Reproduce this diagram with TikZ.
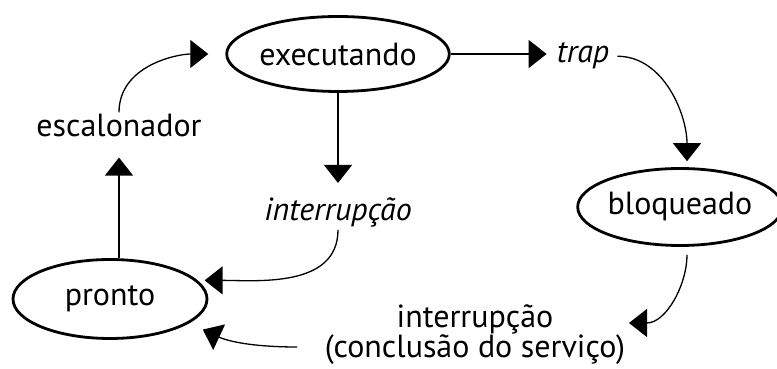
\documentclass[tikz,border=0pt]{standalone}
\usepackage{fontspec}
\setmainfont{PT Sans}
\usetikzlibrary{shapes.geometric, arrows.meta}
\begin{document}
\begin{tikzpicture}[x=1pt, y=1pt]
    \tikzset{state/.style={draw, ellipse, line width=2.8pt, inner sep=0pt, font=\fontsize{32}{32}\selectfont}}
    \tikzset{event/.style={inner sep=2pt, align=center, font=\fontsize{32}{29}\selectfont}}
    \tikzset{trans/.style={-{Triangle[width=28pt, length=18pt]}, line width=1.3pt}}
    \useasboundingbox (0,0) rectangle (777,369);

    \node[state, minimum width=193pt, minimum height=75pt] (Executando) at (338,315) {executando};
    \node[state, minimum width=194pt, minimum height=79pt] (Pronto) at (110,70) {pronto};
    \node[state, minimum width=183pt, minimum height=77pt] (Bloqueado) at (680,162) {bloqueado};

    \node[event, anchor=base] (Escalonador) at (119,232) {escalonador};
    \node[event, anchor=base] (Interrupcao) at (338,148) {\textit{interrupção}};
    \node[event, anchor=base] (Trap) at (583,306) {\textit{trap}};
    \node[event] (Conclusao) at (475,34.5) {interrupção\\(conclusão do serviço)};
    \coordinate (ConclusaoOut) at (297,22);
    \coordinate (ConclusaoIn) at (629,46);

    \draw[trans, shorten >=17pt] (Escalonador.north) to[out=90, in=180] (Executando.west);
    \draw[trans, shorten >=18pt] (Pronto.north -| Escalonador) -- (Escalonador.south);
    \draw[trans, shorten >=13pt] (Executando.south) -- (Interrupcao.north);
    \draw[trans, shorten >=7pt] (Interrupcao.south) to[out=-90, in=0] (Pronto.12);
    \draw[trans, shorten >=15pt] (ConclusaoOut) to[out=180, in=-25] (Pronto.-17);
    \draw[trans, shorten >=8pt] (Executando.east) -- (Executando.east -| Trap.west);
    \draw[trans, shorten <=6pt, shorten >=6pt] (Trap.east) to[out=0, in=90] (Bloqueado.80);
    \draw[trans, shorten <=8pt] (Bloqueado.-80) to[out=-90, in=0] (ConclusaoIn);
\end{tikzpicture}
\end{document}
